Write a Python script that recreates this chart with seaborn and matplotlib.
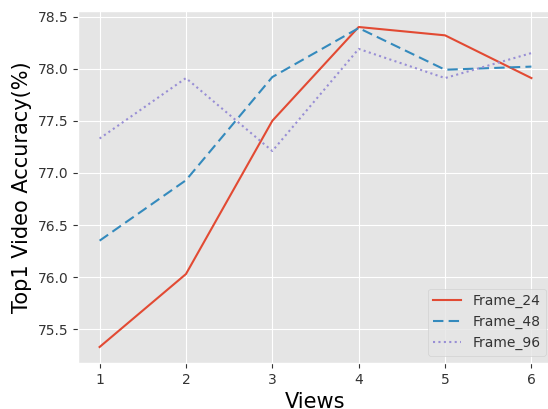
import matplotlib
matplotlib.use("Agg")
import matplotlib.pyplot as plt
import seaborn as sns
import pandas as pd

views = [1, 2, 3, 4, 5, 6]
frame_24 = [75.33, 76.03, 77.50, 78.40, 78.32, 77.91]
frame_48 = [76.35, 76.93, 77.92, 78.39, 77.99, 78.02]
frame_96 = [77.33, 77.91, 77.21, 78.19, 77.91, 78.15]
series_names = ["Frame_24", "Frame_48", "Frame_96"]

plt.style.use("ggplot")
plt.rcParams["font.family"] = ["DejaVu Sans"]

df = pd.DataFrame({
    "Views": views * 3,
    "acc": frame_24 + frame_48 + frame_96,
    "series": [series_names[0]] * 6 + [series_names[1]] * 6 + [series_names[2]] * 6,
})

fig = plt.figure(figsize=(5.48, 4.09), dpi=100)
ax = fig.add_axes([78 / 548, (409 - 363) / 409, (553 - 78) / 548, (363 - 11) / 409])

palette = {"Frame_24": "#E24A33", "Frame_48": "#348ABD", "Frame_96": "#988ED5"}
dashes = {"Frame_24": "", "Frame_48": (5, 2.5), "Frame_96": (1, 1.6)}
sns.lineplot(data=df, x="Views", y="acc", hue="series", style="series",
             palette=palette, dashes=dashes, linewidth=1.5, ax=ax)

ax.set_xlabel("Views", fontsize=15, color="black")
ax.set_ylabel("Top1 Video Accuracy(%)", fontsize=15, color="black")
ax.tick_params(axis="both", labelsize=10, labelcolor="#333333", colors="#333333")
ax.tick_params(axis="both", labelcolor="#333333")
ax.set_xticks(views)
leg = ax.legend(loc="lower right", fontsize=10, title=None)
for t in leg.get_texts():
    t.set_color("#333333")

fig.savefig("out.png", dpi=100)
